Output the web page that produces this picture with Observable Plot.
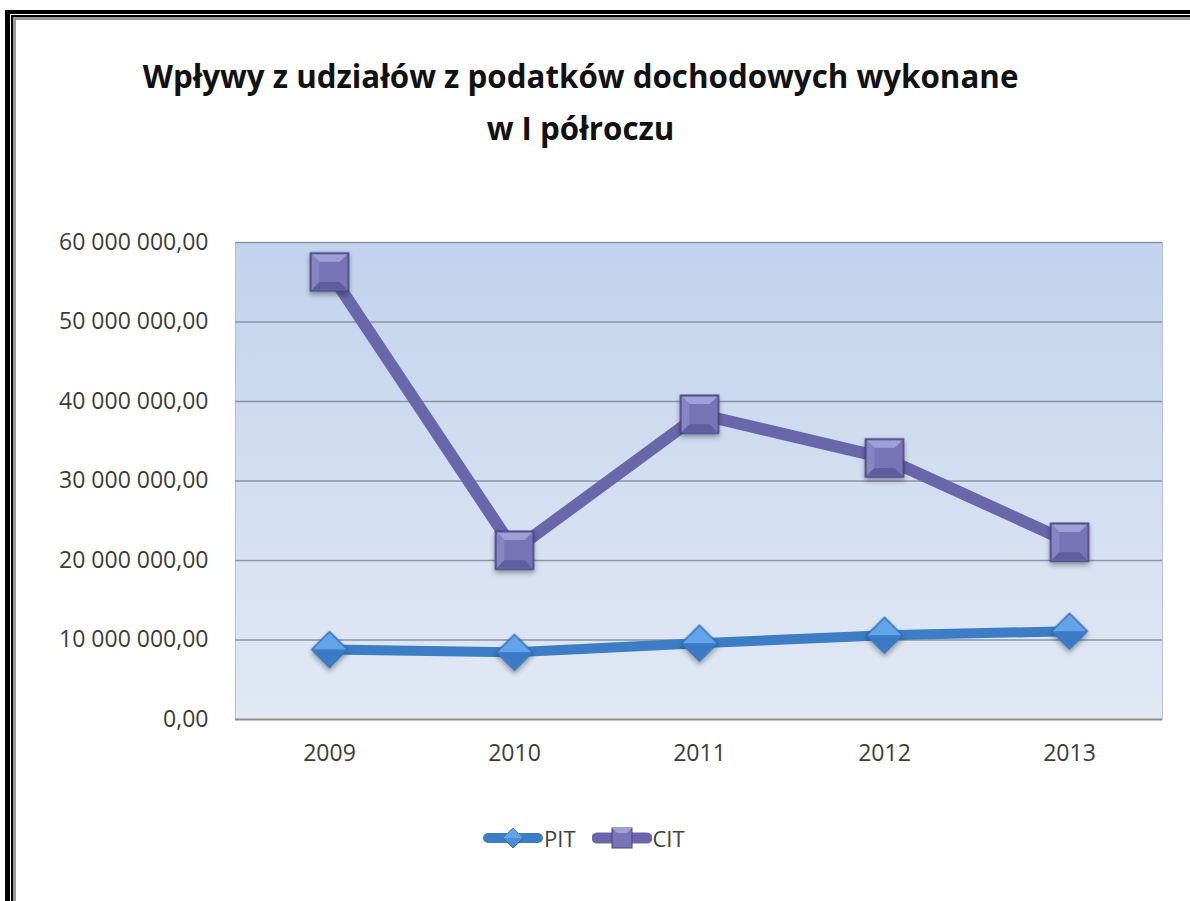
<!DOCTYPE html>
<html><head><meta charset="utf-8">
<script src="https://cdn.jsdelivr.net/npm/d3@7"></script>
<script src="https://cdn.jsdelivr.net/npm/@observablehq/plot@0.6"></script>
<style>
html,body{margin:0;padding:0;background:#fff;}
body{width:1190px;height:901px;overflow:hidden;position:relative;font-family:"Open Sans",sans-serif;}
.fr{position:absolute;width:1400px;height:1100px;}
#f1{left:5px;top:10px;border-left:5px solid #000;border-top:4px solid #000;}
#f2{left:11px;top:15px;border-left:2px solid #000;border-top:2px solid #000;}
#f3{left:13px;top:17px;border-left:3px solid #9a9a9a;border-top:3px solid #9a9a9a;}
#title{position:absolute;left:0;width:1161px;top:50px;text-align:center;font-weight:700;font-size:31.3px;color:#111;line-height:52px;}
#chart{position:absolute;left:0;top:200px;}
#legend{position:absolute;left:483px;top:823px;display:flex;align-items:center;font-size:22px;color:#404040;}
#legend span{margin-right:16px;margin-left:1px;}
</style>
</head><body>
<div class="fr" id="f1"></div><div class="fr" id="f2"></div><div class="fr" id="f3"></div>
<div id="title">Wpływy z udziałów z podatków dochodowych wykonane<br>w I półroczu</div>
<div id="chart"></div>
<div id="legend"></div>
<script>
const years = ["2009", "2010", "2011", "2012", "2013"];
const pitValues = [8.8e6, 8.45e6, 9.6e6, 10.6e6, 11.1e6];
const citValues = [56.3e6, 21.3e6, 38.4e6, 32.9e6, 22.3e6];
const seriesNames = ["PIT", "CIT"];
const yTicks = [0, 10e6, 20e6, 30e6, 40e6, 50e6, 60e6];

const rows = [];
years.forEach((yr, i) => {
  rows.push({year: yr, value: pitValues[i], series: "PIT"});
  rows.push({year: yr, value: citValues[i], series: "CIT"});
});
const pitRows = rows.filter(d => d.series === "PIT");
const citRows = rows.filter(d => d.series === "CIT");

const loc = d3.formatLocale({decimal: ",", thousands: "\u00a0", grouping: [3], currency: ["", ""]});
const fmt = loc.format(",.2f");

// custom symbols (half-size h derived from area)
const half = size => Math.sqrt(size / Math.PI);
const sqFull = {draw(c, s){const h=half(s);c.moveTo(-h,-h);c.lineTo(h,-h);c.lineTo(h,h);c.lineTo(-h,h);c.closePath();}};
const sqTop = {draw(c, s){const h=half(s),b=h*0.42;c.moveTo(-h,-h);c.lineTo(h,-h);c.lineTo(h-b,-h+b);c.lineTo(-h+b,-h+b);c.closePath();}};
const sqBottom = {draw(c, s){const h=half(s),b=h*0.42;c.moveTo(-h,h);c.lineTo(h,h);c.lineTo(h-b,h-b);c.lineTo(-h+b,h-b);c.closePath();}};
const sqLeft = {draw(c, s){const h=half(s),b=h*0.42;c.moveTo(-h,-h);c.lineTo(-h+b,-h+b);c.lineTo(-h+b,h-b);c.lineTo(-h,h);c.closePath();}};
const dmFull = {draw(c, s){const h=half(s);c.moveTo(0,-h);c.lineTo(h,0);c.lineTo(0,h);c.lineTo(-h,0);c.closePath();}};
const dmTop = {draw(c, s){const h=half(s);c.moveTo(-h,0);c.lineTo(0,-h);c.lineTo(h,0);c.lineTo(0,0);c.closePath();}};
const dmBottom = {draw(c, s){const h=half(s);c.moveTo(-h,0);c.lineTo(0,h);c.lineTo(h,0);c.lineTo(0,0);c.closePath();}};

const defs = () => {
  const d = d3.create("svg:defs");
  const g = d.append("linearGradient").attr("id","bg").attr("x1",0).attr("y1",0).attr("x2",0).attr("y2",1);
  g.append("stop").attr("offset","0%").attr("stop-color","#c2d3ed");
  g.append("stop").attr("offset","100%").attr("stop-color","#e2e9f5");
  const f = d.append("filter").attr("id","sh").attr("x","-50%").attr("y","-50%").attr("width","200%").attr("height","200%");
  f.append("feDropShadow").attr("dx",0).attr("dy",3).attr("stdDeviation",2.5).attr("flood-color","#000").attr("flood-opacity",0.35);
  return d.node();
};
const shadow = (i,s,v,d,c,next) => { const g = next(i,s,v,d,c); g.setAttribute("filter","url(#sh)"); return g; };

const sqR = 19, dmR = 18;
const chart = Plot.plot({
  width: 1190, height: 580,
  marginLeft: 235, marginRight: 28, marginTop: 42, marginBottom: 61,
  style: {fontFamily: "'Open Sans', sans-serif", fontSize: "23px", color: "#3c3c3c", background: "transparent", overflow: "visible"},
  x: {type: "point", domain: years, padding: 0.5, label: null, tickSize: 0, tickPadding: 25},
  y: {domain: [0, 60e6], ticks: yTicks, tickFormat: fmt, label: null, tickSize: 0, tickPadding: 27},
  marks: [
    defs,
    Plot.frame({fill: "url(#bg)", stroke: "#b8c0cc"}),
    Plot.gridY(yTicks.filter(d => d > 0), {stroke: "#8a94a0", strokeOpacity: 1, strokeWidth: 1.3}),
    Plot.ruleY([0], {stroke: "#8c8c8c", strokeWidth: 2}),
    Plot.line(pitRows, {x: "year", y: "value", stroke: "#3d7dc5", strokeWidth: 10, strokeLinejoin: "round"}),
    Plot.line(citRows, {x: "year", y: "value", stroke: "#6a66aa", strokeWidth: 12, strokeLinejoin: "round"}),
    Plot.dot(pitRows, {x: "year", y: "value", symbol: dmFull, r: dmR, fill: "#4a8ddb", stroke: "#2f69ad", strokeWidth: 1.2, render: shadow}),
    Plot.dot(pitRows, {x: "year", y: "value", symbol: dmTop, r: dmR - 1.5, fill: "#63a3ea", stroke: "none"}),
    Plot.dot(pitRows, {x: "year", y: "value", symbol: dmBottom, r: dmR - 1.5, fill: "#3b7bc6", stroke: "none"}),
    Plot.dot(citRows, {x: "year", y: "value", symbol: sqFull, r: sqR, fill: "#7875b7", stroke: "#45427e", strokeWidth: 1.5, render: shadow}),
    Plot.dot(citRows, {x: "year", y: "value", symbol: sqTop, r: sqR - 1.5, fill: "#a19fd8", stroke: "none"}),
    Plot.dot(citRows, {x: "year", y: "value", symbol: sqLeft, r: sqR - 1.5, fill: "#8784c4", stroke: "none"}),
    Plot.dot(citRows, {x: "year", y: "value", symbol: sqBottom, r: sqR - 1.5, fill: "#5f5ca0", stroke: "none"})
  ]
});
document.getElementById("chart").appendChild(chart);

// legend
const lg = document.getElementById("legend");
const legendStyle = {
  PIT: {stroke: "#3d7dc5", w: 10, marker: `<path d="M30,2 L40,12 L30,22 L20,12 Z" fill="#4a8ddb" stroke="#2f69ad"/><path d="M20,12 L30,2 L40,12 Z" fill="#63a3ea"/>`},
  CIT: {stroke: "#6a66aa", w: 11, marker: `<rect x="20" y="2" width="20" height="20" fill="#7875b7" stroke="#45427e"/><path d="M20,2 L40,2 L35,7 L25,7 Z" fill="#a19fd8"/>`}
};
seriesNames.forEach(n => {
  const st = legendStyle[n];
  lg.insertAdjacentHTML("beforeend",
    `<svg width="60" height="24" viewBox="0 0 60 24"><line x1="5" y1="12" x2="55" y2="12" stroke="${st.stroke}" stroke-width="${st.w}" stroke-linecap="round"/>${st.marker}</svg><span>${n}</span>`);
});
</script>
</body></html>
